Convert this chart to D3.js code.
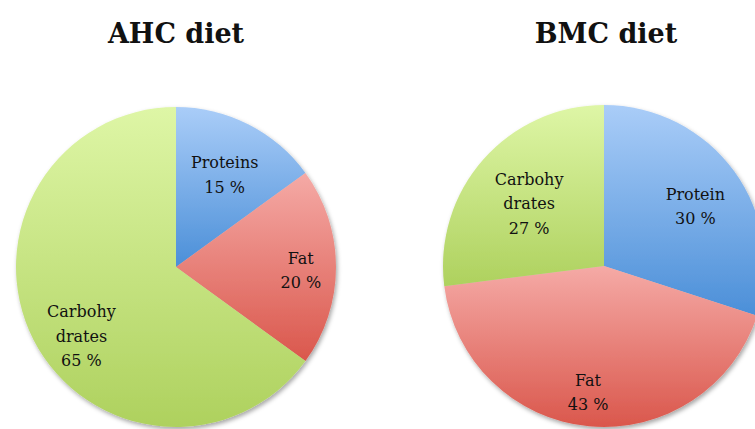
<!DOCTYPE html>
<html>
<head>
<meta charset="utf-8">
<script src="https://cdn.jsdelivr.net/npm/d3@7/dist/d3.min.js"></script>
<style>
  html, body { margin: 0; padding: 0; background: #fff; }
  svg { display: block; }
</style>
</head>
<body>
<svg id="chart" width="755" height="429"></svg>
<script>
// Macronutrient share of each diet (percent of energy)
const nutrients = ["Proteins", "Fat", "Carbohydrates"];
const ahcLabels = [["Proteins"], ["Fat"], ["Carbohy", "drates"]];
const ahcValues = [15, 20, 65];
const bmcLabels = [["Protein"], ["Fat"], ["Carbohy", "drates"]];
const bmcValues = [30, 43, 27];
const dietTitles = ["AHC diet", "BMC diet"];

// Slice fills: light top to darker bottom
const fillTop = { Proteins: "#aacdf8", Fat: "#f5aaa6", Carbohydrates: "#def6a6" };
const fillBottom = { Proteins: "#4b8fd8", Fat: "#da574c", Carbohydrates: "#aed15e" };

const svg = d3.select("#chart");
const defs = svg.append("defs");

const shadow = defs.append("filter").attr("id", "pieShadow")
  .attr("x", "-10%").attr("y", "-10%").attr("width", "120%").attr("height", "120%");
shadow.append("feDropShadow").attr("dx", 1.5).attr("dy", 2.5)
  .attr("stdDeviation", 2).attr("flood-color", "#000").attr("flood-opacity", 0.35);

// label placement per slice: [fraction of radius, angular nudge in degrees]
const charts = [
  { title: dietTitles[0], values: ahcValues, labels: ahcLabels, cx: 176, cy: 267, r: 160,
    labelPos: [[0.67, 0], [0.78, 0], [0.72, -7.8]] },
  { title: dietTitles[1], values: bmcValues, labels: bmcLabels, cx: 604, cy: 266, r: 161,
    labelPos: [[0.69, 1.3], [0.77, 2], [0.62, 0]] }
];

const pie = d3.pie().sort(null).value(d => d.value);

charts.forEach((c, ci) => {
  const data = nutrients.map((n, i) => ({ key: n, value: c.values[i], label: c.labels[i] }));
  const arcs = pie(data);
  const arc = d3.arc().innerRadius(0).outerRadius(c.r);

  const g = svg.append("g").attr("transform", `translate(${c.cx},${c.cy})`);

  // gradient per slice
  arcs.forEach((a, i) => {
    const gr = defs.append("linearGradient").attr("id", `grad-${ci}-${i}`)
      .attr("x1", 0).attr("y1", 0).attr("x2", 0).attr("y2", 1);
    gr.append("stop").attr("offset", "0%").attr("stop-color", fillTop[a.data.key]);
    gr.append("stop").attr("offset", "100%").attr("stop-color", fillBottom[a.data.key]);
  });

  const slices = g.append("g").attr("filter", "url(#pieShadow)");
  slices.selectAll("path").data(arcs).join("path")
    .attr("d", arc)
    .attr("fill", (d, i) => `url(#grad-${ci}-${i})`);

  // labels
  arcs.forEach((a, i) => {
    const [kf, nudge] = c.labelPos[i];
    const k = kf * c.r;
    const shift = nudge * Math.PI / 180;
    const [lx, ly] = d3.arc().innerRadius(k).outerRadius(k)
      .centroid({ startAngle: a.startAngle + shift, endAngle: a.endAngle + shift });
    const lines = a.data.label.concat([`${a.data.value} %`]);
    const lh = 24.5;
    const t = g.append("text")
      .attr("text-anchor", "middle")
      .attr("font-family", "'DejaVu Serif', serif")
      .attr("font-size", 16)
      .attr("fill", "#111");
    lines.forEach((ln, j) => {
      t.append("tspan")
        .attr("x", lx)
        .attr("y", ly + (j - (lines.length - 1) / 2) * lh + 9)
        .text(ln);
    });
  });

  svg.append("text")
    .attr("x", c.cx + (ci === 1 ? 2 : 0))
    .attr("y", 43)
    .attr("text-anchor", "middle")
    .attr("font-family", "'DejaVu Serif', serif")
    .attr("font-weight", "bold")
    .attr("font-size", 27)
    .attr("fill", "#111")
    .text(c.title);
});
</script>
</body>
</html>
